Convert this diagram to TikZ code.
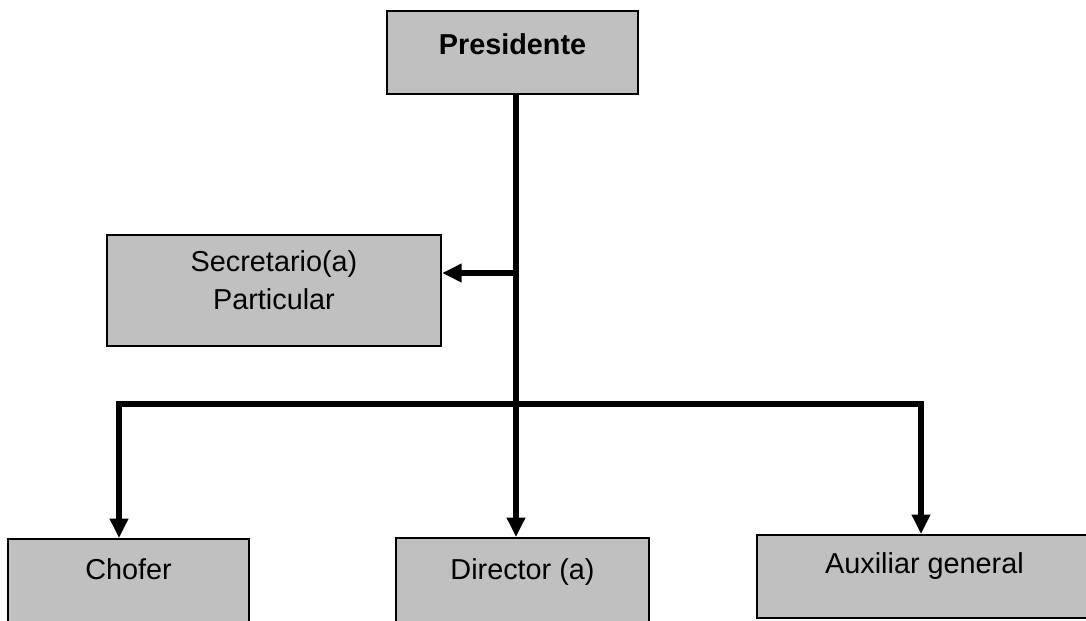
\documentclass[tikz,border=0pt]{standalone}
\usepackage{fontspec}
\setmainfont{Liberation Sans}
\usetikzlibrary{positioning,arrows.meta}
\definecolor{boxgray}{RGB}{192,192,192}

\begin{document}
\begin{tikzpicture}[x=0.02cm,y=-0.02cm]
        \tikzstyle{post}=[draw,line width=1.4pt,fill=boxgray,inner sep=0pt,anchor=north,font=\fontsize{16.4}{21.5}\selectfont]
        \tikzstyle{link}=[line width=3.2pt]
        \tikzstyle{down}=[link,-{Triangle[length=11pt,width=10pt]}]

        \useasboundingbox (0,0) rectangle (1086,620);
        \clip (0,0) rectangle (1086,620);

        \node[post,minimum width=251*0.02cm,text height=43*0.02cm,text depth=40*0.02cm,font=\fontsize{16.4}{21.5}\selectfont\bfseries] (pres) at (512.5,10) {Presidente};
        \node[post,minimum width=334*0.02cm,text height=74*0.02cm,text depth=37*0.02cm,align=center] (secr) at (274,234) {Secretario(a)\\Particular};
        \node[post,minimum width=241*0.02cm,text height=40*0.02cm,text depth=100*0.02cm] (chof) at (128.5,538) {Chofer};
        \node[post,minimum width=253*0.02cm,text height=41*0.02cm,text depth=100*0.02cm] (dir) at (522.5,537) {Director (a)};
        \node[post,minimum width=335*0.02cm,text height=38*0.02cm,text depth=45*0.02cm] (aux) at (924.5,534) {Auxiliar general};

        \coordinate (spine) at (516,404);
        \coordinate (tap) at (513,273);
        \coordinate (jl) at (119,404);
        \coordinate (jr) at (921,404);

        \draw[down] (pres.south -| spine) -- (dir.north -| spine);
        \draw[down] (tap) -- (tap -| secr.east);
        \draw[down,line cap=rect] (jr) -- (jl) -- (jl |- chof.north);
        \draw[down] (jr) -- (jr |- aux.north);
    \end{tikzpicture}
\end{document}
